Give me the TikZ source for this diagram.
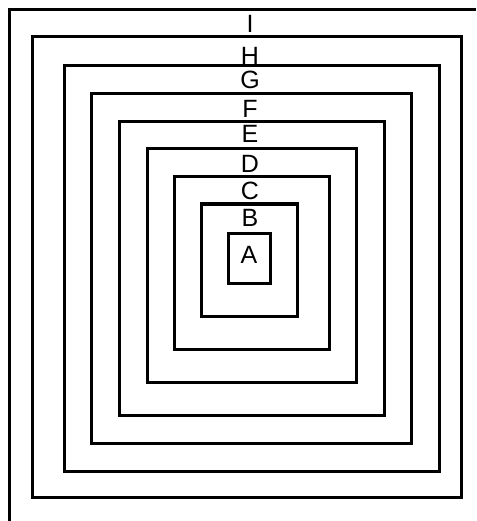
\documentclass[tikz,border=0pt]{standalone}
\usepackage{fontspec}
\setmainfont{Liberation Sans}

\begin{document}
\begin{tikzpicture}[x=1pt,y=-1pt,line width=3pt,
    lbl/.style={font=\fontsize{25}{30}\selectfont,inner sep=0pt}]
  % page frame, in pixel units (y runs downwards)
  \useasboundingbox (0,0) rectangle (476,521);
  % region I: only its top and left edges lie on the page
  \draw (9,521) |- (476,10);
  % nested regions, outermost first
  \draw (32,37)   rectangle (461,497);  % H
  \draw (64,66)   rectangle (439,471);  % G
  \draw (91,94)   rectangle (411,443);  % F
  \draw (119,122) rectangle (384,415);  % E
  \draw (147,149) rectangle (356,382);  % D
  \draw (174,177) rectangle (329,349);  % C
  \draw (201,204) rectangle (297,316);  % B
  \draw (228,233) rectangle (270,283);  % A

  % region labels, just under each top edge
  \node[lbl] (labI) at (250,23.5)  {I};
  \node[lbl] (labH) at (250,55.5)  {H};
  \node[lbl] (labG) at (250,79.5)  {G};
  \node[lbl] (labF) at (250,108.5) {F};
  \node[lbl] (labE) at (250,133.5) {E};
  \node[lbl] (labD) at (250,163.5) {D};
  \node[lbl] (labC) at (250,190.5) {C};
  \node[lbl] (labB) at (250,217.5) {B};
  \node[lbl] (labA) at (249,255)   {A};
\end{tikzpicture}
\end{document}
